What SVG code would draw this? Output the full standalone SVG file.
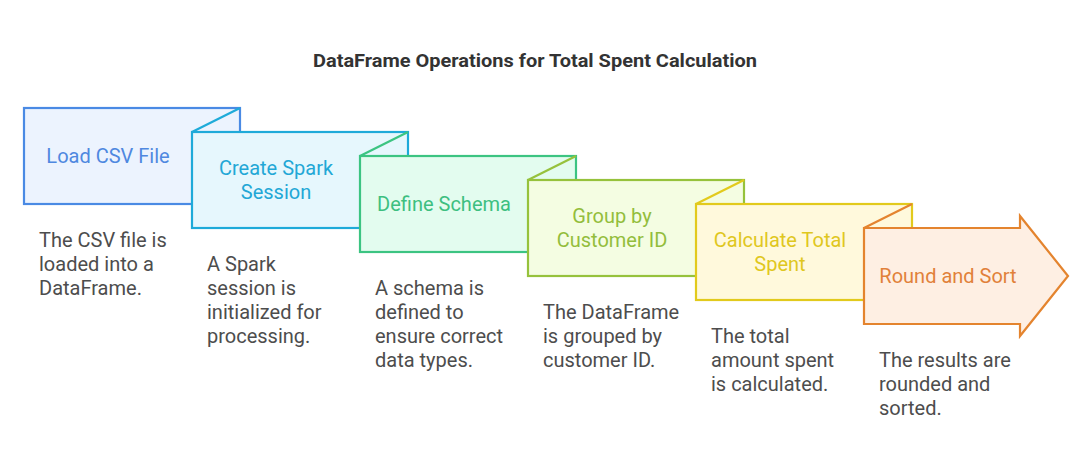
<svg xmlns="http://www.w3.org/2000/svg" width="1092" height="468" viewBox="0 0 1092 468">
  <style>
    .title { font-family: Roboto, "Liberation Sans", sans-serif; font-size: 17.5px; font-weight: bold; fill: #333333; }
    .label { font-family: Roboto, "Liberation Sans", sans-serif; font-size: 20px; text-anchor: middle; }
    .desc { font-family: Roboto, "Liberation Sans", sans-serif; font-size: 20px; fill: #4d4d4d; }
    .shape { stroke-width: 2.2; stroke-linejoin: miter; }
    .fold { stroke-width: 2.2; fill: none; }
  </style>
  <rect width="1092" height="468" fill="#ffffff"/>

  <text class="title" x="313" y="66.5" textLength="444" lengthAdjust="spacingAndGlyphs">DataFrame Operations for Total Spent Calculation</text>

  <!-- Step 1 -->
  <g id="step-load-csv">
    <rect class="shape" x="24" y="108" width="216" height="96" fill="#ecf3fe" stroke="#4a8ae4"/>
    <text class="label" x="108" y="163" fill="#4f88e0">Load CSV File</text>
    <text class="desc"><tspan x="39" y="247">The CSV file is</tspan><tspan x="39" y="271">loaded into a</tspan><tspan x="39" y="295">DataFrame.</tspan></text>
  </g>

  <!-- Step 2 -->
  <g id="step-spark-session">
    <rect class="shape" x="192" y="132" width="216" height="96" fill="#e6f7fd" stroke="#1eaad9"/>
    <line class="fold" x1="192" y1="132" x2="240" y2="108" stroke="#1eaad9"/>
    <text class="label" fill="#22a7d6"><tspan x="276" y="175">Create Spark</tspan><tspan x="276" y="199">Session</tspan></text>
    <text class="desc"><tspan x="207" y="271">A Spark</tspan><tspan x="207" y="295">session is</tspan><tspan x="207" y="319">initialized for</tspan><tspan x="207" y="343">processing.</tspan></text>
  </g>

  <!-- Step 3 -->
  <g id="step-define-schema">
    <rect class="shape" x="360" y="156" width="216" height="96" fill="#e3fcef" stroke="#3cc482"/>
    <line class="fold" x1="360" y1="156" x2="408" y2="132" stroke="#3cc482"/>
    <text class="label" x="444" y="211" fill="#3dbf80">Define Schema</text>
    <text class="desc"><tspan x="375" y="295">A schema is</tspan><tspan x="375" y="319">defined to</tspan><tspan x="375" y="343">ensure correct</tspan><tspan x="375" y="367">data types.</tspan></text>
  </g>

  <!-- Step 4 -->
  <g id="step-group-by">
    <rect class="shape" x="528" y="180" width="216" height="96" fill="#f4fde2" stroke="#96c23c"/>
    <line class="fold" x1="528" y1="180" x2="576" y2="156" stroke="#96c23c"/>
    <text class="label" fill="#93bd3c"><tspan x="612" y="223">Group by</tspan><tspan x="612" y="247">Customer ID</tspan></text>
    <text class="desc"><tspan x="543" y="319">The DataFrame</tspan><tspan x="543" y="343">is grouped by</tspan><tspan x="543" y="367">customer ID.</tspan></text>
  </g>

  <!-- Step 5 -->
  <g id="step-calculate-total">
    <rect class="shape" x="696" y="204" width="216" height="96" fill="#fff9dc" stroke="#e2ca1c"/>
    <line class="fold" x1="696" y1="204" x2="744" y2="180" stroke="#e2ca1c"/>
    <text class="label" fill="#dfc720"><tspan x="780" y="247">Calculate Total</tspan><tspan x="780" y="271">Spent</tspan></text>
    <text class="desc"><tspan x="711" y="343">The total</tspan><tspan x="711" y="367">amount spent</tspan><tspan x="711" y="391">is calculated.</tspan></text>
  </g>

  <!-- Step 6: final arrow -->
  <g id="step-round-sort">
    <polygon class="shape" points="864,228 1020,228 1020,216 1068,276 1020,336 1020,324 864,324" fill="#feefe3" stroke="#e4842e"/>
    <line class="fold" x1="864" y1="228" x2="912" y2="204" stroke="#e4842e"/>
    <text class="label" x="948" y="283" fill="#e1813a">Round and Sort</text>
    <text class="desc"><tspan x="879" y="367">The results are</tspan><tspan x="879" y="391">rounded and</tspan><tspan x="879" y="415">sorted.</tspan></text>
  </g>

  <g id="connectors"></g>
</svg>
